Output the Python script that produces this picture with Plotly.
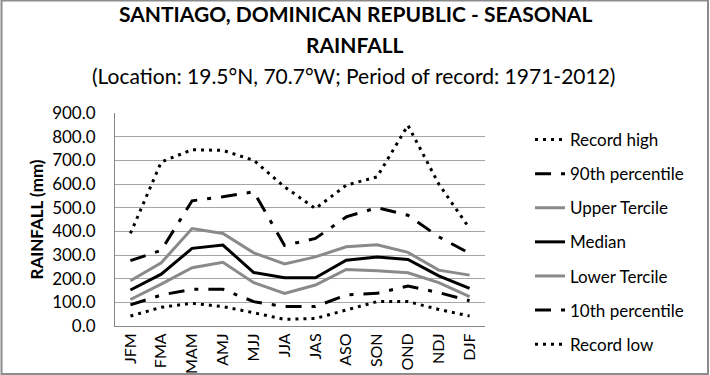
import plotly.graph_objects as go

seasons = ["JFM", "FMA", "MAM", "AMJ", "MJJ", "JJA", "JAS", "ASO", "SON", "OND", "NDJ", "DJF"]
record_high = [391, 693, 745, 742, 700, 588, 496, 595, 630, 848, 600, 412]
p90 = [276, 320, 529, 546, 567, 340, 370, 461, 500, 468, 377, 307]
upper_tercile = [191, 267, 412, 391, 309, 262, 292, 335, 343, 311, 236, 215]
median = [152, 219, 328, 342, 226, 204, 204, 278, 292, 281, 212, 159]
lower_tercile = [112, 177, 246, 269, 183, 138, 173, 239, 233, 225, 183, 124]
p10 = [89, 131, 155, 155, 103, 82, 82, 131, 138, 169, 141, 107]
record_low = [42, 79, 96, 82, 56, 28, 32, 67, 103, 103, 70, 42]
y_ticks = [0, 100, 200, 300, 400, 500, 600, 700, 800, 900]

FONT = "Lato"
GREY = "#8a8a8a"
series = [
    ("Record high", record_high, "black", "3px,5px", 3),
    ("90th percentile", p90, "black", "16px,10px,4px,10px", 3),
    ("Upper Tercile", upper_tercile, GREY, "solid", 3),
    ("Median", median, "black", "solid", 3),
    ("Lower Tercile", lower_tercile, GREY, "solid", 3),
    ("10th percentile", p10, "black", "16px,10px,4px,10px", 3),
    ("Record low", record_low, "black", "3px,5px", 3),
]

fig = go.Figure()
for i, (name, vals, col, dash, w) in enumerate(series):
    fig.add_trace(go.Scatter(
        x=seasons, y=vals, mode="lines", name=name,
        line=dict(color=col, dash=dash, width=w),
        legendgroup=f"g{i}",
    ))

W, H = 710, 375
L, R, T, B = 115, 225, 113, 49
pw, ph = W - L - R, H - T - B

def px(x):
    return (x - L) / pw

def py(y):
    return (H - B - y) / ph

fig.update_layout(
    width=W, height=H,
    margin=dict(l=L, r=R, t=T, b=B, autoexpand=False),
    paper_bgcolor="white", plot_bgcolor="white",
    font=dict(family=FONT, color="black", size=16),
    showlegend=True,
    legend=dict(
        x=px(530), y=py(122), xanchor="left", yanchor="top",
        font=dict(family=FONT, size=17, color="black"),
        tracegroupgap=9, traceorder="grouped",
        bgcolor="rgba(0,0,0,0)", maxheight=300,
    ),
    xaxis=dict(
        type="category", tickangle=-90,
        showgrid=False, showline=True, linecolor="#868686", linewidth=1,
        ticks="", tickfont=dict(family=FONT, size=16),
        range=[-0.5, 11.5], automargin=False,
    ),
    yaxis=dict(
        range=[0, 900], tickvals=y_ticks,
        ticktext=[f"{v:.1f}" for v in y_ticks],
        showgrid=True, gridcolor="#a6a6a6", gridwidth=1,
        showline=True, linecolor="#868686", linewidth=1,
        ticks="", tickfont=dict(family=FONT, size=17),
        ticklabelstandoff=15, automargin=False,
        title=dict(text="<b>RAINFALL (mm)</b>", font=dict(family=FONT, size=17), standoff=4),
        zeroline=False,
    ),
    annotations=[
        dict(text="<b>SANTIAGO, DOMINICAN REPUBLIC - SEASONAL</b>", x=px(355), y=py(14),
             xref="paper", yref="paper", showarrow=False, xanchor="center", yanchor="middle",
             font=dict(family=FONT, size=21, color="black")),
        dict(text="<b>RAINFALL</b>", x=px(355), y=py(44),
             xref="paper", yref="paper", showarrow=False, xanchor="center", yanchor="middle",
             font=dict(family=FONT, size=21, color="black")),
        dict(text="(Location: 19.5°N, 70.7°W; Period of record: 1971-2012)", x=px(353), y=py(75),
             xref="paper", yref="paper", showarrow=False, xanchor="center", yanchor="middle",
             font=dict(family=FONT, size=21, color="black")),
    ],
    shapes=[
        dict(type="rect", xref="paper", yref="paper",
             x0=px(1.5), x1=px(708), y0=py(374), y1=py(0.5),
             line=dict(color="#8c8c8c", width=2), fillcolor="rgba(0,0,0,0)", layer="below"),
    ],
)

fig.write_html("out.html", config={"displayModeBar": False},
               post_script="document.body.style.margin='0';")
